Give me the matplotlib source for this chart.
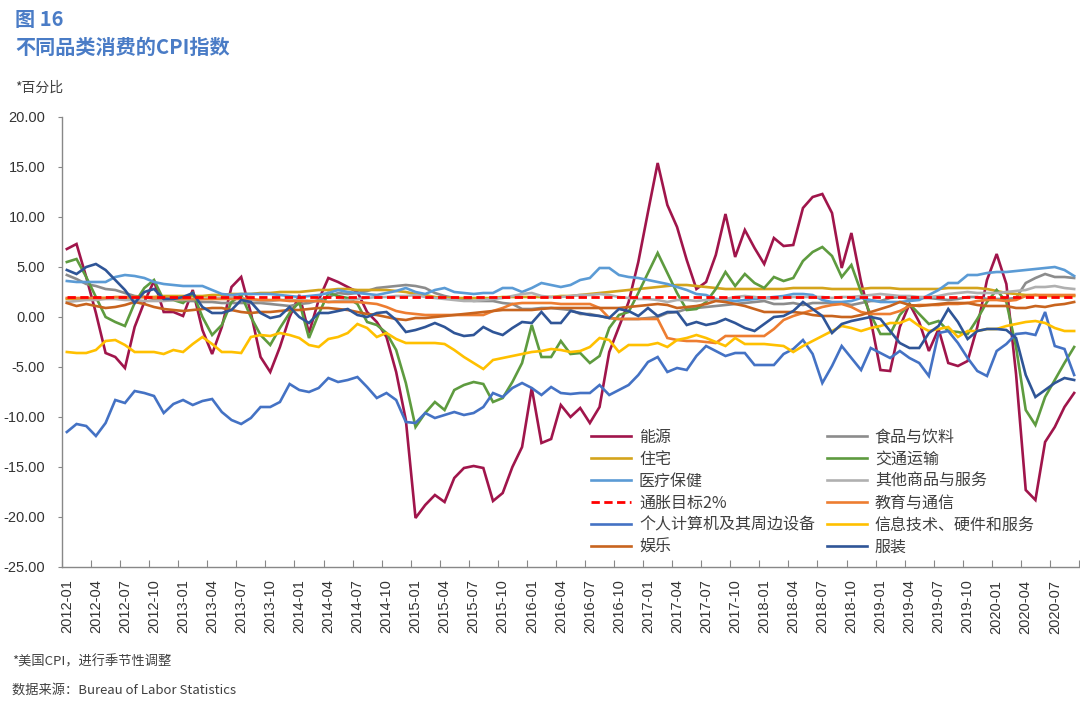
import matplotlib
matplotlib.use("Agg")
import matplotlib.pyplot as plt
import numpy as np

plt.rcParams['font.family'] = ['Noto Sans CJK SC', 'DejaVu Sans']

months = [f"{y}-{m:02d}" for y in range(2012, 2021) for m in range(1, 13)][:105]

energy = [6.8, 7.3, 4.0, 0.4, -3.6, -4.0, -5.1, -1.0, 1.5, 3.6, 0.5, 0.5,
          0.1, 2.7, -1.3, -3.7, -1.0, 3.0, 4.0, 0.4, -4.0, -5.5, -3.0, 0.0,
          2.2, -1.6, 1.7, 3.9, 3.5, 3.0, 2.5, 0.5, -0.5, -2.0, -5.5, -10.3,
          -20.1, -18.8, -17.8, -18.5, -16.1, -15.1, -14.9, -15.1, -18.4, -17.6, -15.0, -13.0,
          -7.1, -12.6, -12.2, -8.8, -10.0, -9.1, -10.6, -9.0, -3.5, -1.0, 1.5, 5.5,
          10.5, 15.4, 11.2, 9.0, 5.7, 2.8, 3.5, 6.2, 10.3, 6.0, 8.7, 6.9,
          5.3, 7.9, 7.1, 7.2, 10.9, 12.0, 12.3, 10.4, 4.9, 8.4, 3.5, -0.3,
          -5.3, -5.4, -1.0, 1.3, -0.5, -3.4, -1.2, -4.6, -4.9, -4.4, -1.0, 3.7,
          6.3, 3.3, -5.7, -17.3, -18.3, -12.5, -11.0, -9.0, -7.6]

food = [4.2, 3.8, 3.3, 3.1, 2.8, 2.7, 2.4, 2.1, 2.0, 1.8, 1.8, 1.8,
        1.6, 1.6, 1.5, 1.5, 1.4, 1.4, 1.4, 1.4, 1.4, 1.3, 1.2, 1.1,
        1.3, 1.4, 1.7, 2.0, 2.4, 2.3, 2.4, 2.6, 2.9, 3.0, 3.1, 3.2,
        3.1, 2.9, 2.4, 2.1, 1.9, 1.8, 1.6, 1.6, 1.6, 1.4, 1.3, 0.8,
        0.8, 0.9, 0.9, 0.8, 0.7, 0.3, 0.3, 0.1, -0.1, -0.2, -0.2, -0.2,
        -0.1, 0.0, 0.4, 0.5, 0.8, 0.9, 1.0, 1.1, 1.2, 1.3, 1.4, 1.5,
        1.6, 1.3, 1.3, 1.4, 1.2, 1.4, 1.4, 1.4, 1.4, 1.2, 1.4, 1.6,
        1.6, 1.9, 2.0, 1.8, 1.9, 1.9, 1.8, 1.7, 1.8, 2.0, 2.0, 1.8,
        1.8, 1.8, 1.9, 3.4, 3.9, 4.3, 4.0, 4.0, 3.9]

housing = [1.8, 1.8, 1.8, 1.9, 1.9, 1.9, 1.9, 2.0, 2.0, 2.0, 2.1, 2.1,
           2.1, 2.1, 2.1, 2.2, 2.2, 2.3, 2.3, 2.3, 2.4, 2.4, 2.5, 2.5,
           2.5, 2.6, 2.7, 2.7, 2.8, 2.8, 2.7, 2.7, 2.7, 2.7, 2.6, 2.5,
           2.3, 2.2, 2.0, 1.9, 1.9, 1.9, 1.9, 1.9, 1.9, 2.0, 2.0, 2.0,
           2.0, 2.0, 2.0, 2.1, 2.1, 2.2, 2.3, 2.4, 2.5, 2.6, 2.7, 2.8,
           2.9, 3.0, 3.1, 3.2, 3.2, 3.1, 3.0, 2.9, 2.8, 2.8, 2.8, 2.8,
           2.8, 2.8, 2.8, 2.9, 2.9, 2.9, 2.9, 2.8, 2.8, 2.8, 2.8, 2.9,
           2.9, 2.9, 2.8, 2.8, 2.8, 2.8, 2.8, 2.9, 2.9, 2.9, 2.9, 2.8,
           2.6, 2.4, 2.3, 2.2, 2.2, 2.1, 2.1, 2.1, 2.1]

transport = [5.5, 5.8, 4.0, 2.0, 0.0, -0.5, -0.9, 1.4, 2.9, 3.7, 1.7, 1.7,
             1.4, 2.4, 0.0, -1.8, -0.8, 1.5, 2.2, 0.0, -1.8, -2.8, -1.1, 0.4,
             1.5, -2.1, 0.3, 2.4, 2.1, 1.9, 1.3, -0.5, -0.8, -1.6, -3.3, -6.6,
             -11.0, -9.6, -8.5, -9.3, -7.3, -6.8, -6.5, -6.7, -8.5, -8.1, -6.5, -4.6,
             -0.8, -4.0, -4.0, -2.4, -3.7, -3.6, -4.6, -3.9, -1.1, 0.2, 0.5, 2.4,
             4.4, 6.4, 4.4, 2.4, 0.7, 0.8, 1.5, 2.8, 4.5, 3.1, 4.3, 3.4,
             2.9, 4.0, 3.6, 3.9, 5.6, 6.5, 7.0, 6.1, 4.0, 5.2, 2.5, 0.2,
             -1.7, -1.7, 0.2, 1.3, 0.3, -0.7, -0.4, -1.4, -1.5, -1.7, -0.2, 1.5,
             2.7, 1.5, -3.0, -9.3, -10.8, -8.0, -6.3, -4.6, -3.0]

medical = [3.6, 3.5, 3.5, 3.5, 3.5, 4.0, 4.2, 4.1, 3.9, 3.5, 3.3, 3.2,
           3.1, 3.1, 3.1, 2.7, 2.3, 2.2, 2.3, 2.3, 2.3, 2.3, 2.2, 2.1,
           2.0, 2.1, 2.2, 2.4, 2.7, 2.5, 2.4, 2.3, 2.2, 2.4, 2.6, 2.9,
           2.5, 2.3, 2.7, 2.9, 2.5, 2.4, 2.3, 2.4, 2.4, 2.9, 2.9, 2.5,
           2.9, 3.4, 3.2, 3.0, 3.2, 3.7, 3.9, 4.9, 4.9, 4.2, 4.0, 3.9,
           3.7, 3.5, 3.3, 3.0, 2.7, 2.3, 2.2, 1.8, 1.7, 1.6, 1.7, 1.8,
           1.9, 2.0, 2.1, 2.3, 2.3, 2.2, 1.7, 1.5, 1.5, 1.6, 1.9, 1.7,
           1.5, 1.5, 1.5, 1.6, 1.7, 2.2, 2.7, 3.4, 3.4, 4.2, 4.2, 4.4,
           4.5, 4.5, 4.6, 4.7, 4.8, 4.9, 5.0, 4.7, 4.1]

other = [1.5, 1.6, 1.7, 1.7, 1.8, 1.8, 1.7, 1.7, 1.6, 1.6, 1.6, 1.7,
         1.7, 1.8, 1.8, 1.9, 1.9, 2.0, 1.9, 1.7, 1.6, 1.6, 1.7, 1.7,
         1.7, 1.6, 1.6, 1.5, 1.6, 1.7, 1.8, 1.9, 2.0, 2.0, 2.1, 2.1,
         2.2, 2.0, 1.9, 1.8, 1.7, 1.6, 1.6, 1.7, 1.8, 1.9, 2.1, 2.3,
         2.4, 2.1, 2.0, 2.0, 2.1, 2.2, 2.2, 2.3, 2.2, 2.0, 1.9, 1.8,
         1.8, 1.7, 1.5, 1.7, 1.7, 1.6, 1.7, 1.7, 1.8, 2.0, 2.1, 2.0,
         1.9, 1.8, 1.9, 2.0, 2.0, 2.0, 2.0, 1.9, 2.0, 2.0, 2.1, 2.2,
         2.3, 2.2, 2.1, 2.1, 2.0, 2.0, 2.1, 2.3, 2.4, 2.5, 2.4, 2.4,
         2.4, 2.5, 2.6, 2.7, 3.0, 3.0, 3.1, 2.9, 2.8]

target = [2.0] * 105

education = [1.9, 1.9, 1.9, 1.9, 1.9, 2.0, 2.0, 2.0, 2.0, 1.9, 1.9, 1.8,
             1.8, 1.8, 1.8, 1.8, 1.8, 1.8, 1.8, 1.8, 1.7, 1.7, 1.7, 1.6,
             1.6, 1.6, 1.6, 1.5, 1.5, 1.5, 1.5, 1.4, 1.3, 1.0, 0.6, 0.4,
             0.3, 0.2, 0.2, 0.2, 0.2, 0.2, 0.2, 0.2, 0.6, 0.9, 1.3, 1.4,
             1.4, 1.4, 1.4, 1.3, 1.3, 1.3, 1.3, 0.9, -0.1, -0.2, -0.2, -0.2,
             -0.2, -0.2, -2.1, -2.3, -2.4, -2.4, -2.5, -2.6, -1.9, -1.9, -1.9, -1.9,
             -1.9, -1.2, -0.3, 0.1, 0.4, 0.7, 1.0, 1.2, 1.3, 1.0, 0.5, 0.3,
             0.3, 0.3, 0.6, 1.1, 1.2, 1.2, 1.2, 1.3, 1.3, 1.4, 1.6, 1.7,
             1.7, 1.6, 1.7, 2.1, 2.2, 2.2, 2.2, 2.2, 2.2]

computers = [-11.5, -10.7, -10.9, -11.9, -10.6, -8.3, -8.6, -7.4, -7.6, -7.9, -9.6, -8.7,
             -8.3, -8.8, -8.4, -8.2, -9.5, -10.3, -10.7, -10.1, -9.0, -9.0, -8.5, -6.7,
             -7.3, -7.5, -7.1, -6.1, -6.5, -6.3, -6.0, -7.0, -8.1, -7.6, -8.3, -10.5,
             -10.6, -9.6, -10.1, -9.8, -9.5, -9.8, -9.6, -9.0, -7.6, -8.0, -7.1, -6.6,
             -7.1, -7.8, -7.0, -7.6, -7.7, -7.6, -7.6, -6.8, -7.8, -7.3, -6.8, -5.8,
             -4.5, -4.0, -5.5, -5.1, -5.3, -3.9, -2.9, -3.4, -3.9, -3.6, -3.6, -4.8,
             -4.8, -4.8, -3.7, -3.2, -2.3, -3.7, -6.6, -4.9, -2.9, -4.1, -5.3, -3.1,
             -3.6, -4.1, -3.4, -4.1, -4.6, -5.9, -1.6, -1.4, -2.6, -4.1, -5.4, -5.9,
             -3.4, -2.7, -1.7, -1.6, -1.8, 0.5, -2.9, -3.2, -5.8]

it_services = [-3.5, -3.6, -3.6, -3.3, -2.4, -2.3, -2.8, -3.5, -3.5, -3.5, -3.7, -3.3,
               -3.5, -2.7, -2.0, -2.7, -3.5, -3.5, -3.6, -2.0, -1.8, -1.9, -1.6, -1.8,
               -2.1, -2.8, -3.0, -2.2, -2.0, -1.6, -0.7, -1.1, -2.0, -1.6, -2.2, -2.6,
               -2.6, -2.6, -2.6, -2.7, -3.3, -4.0, -4.6, -5.2, -4.3, -4.1, -3.9, -3.7,
               -3.5, -3.4, -3.2, -3.3, -3.5, -3.4, -3.0, -2.1, -2.3, -3.5, -2.8, -2.8,
               -2.8, -2.6, -3.0, -2.3, -2.1, -1.8, -2.1, -2.5, -2.9, -2.1, -2.7, -2.7,
               -2.7, -2.8, -2.9, -3.5, -2.9, -2.4, -1.9, -1.4, -0.9, -1.1, -1.4, -1.1,
               -0.9, -0.6, -0.6, -0.2, -0.9, -1.4, -1.2, -1.0, -2.0, -1.4, -1.4, -1.2,
               -1.2, -0.9, -0.7, -0.5, -0.4, -0.6, -1.1, -1.4, -1.4]

recreation = [1.4, 1.1, 1.3, 1.1, 0.9, 1.0, 1.2, 1.5, 1.3, 1.0, 0.8, 0.7,
              0.6, 0.7, 0.8, 0.9, 0.9, 0.7, 0.5, 0.4, 0.5, 0.5, 0.6, 0.7,
              0.7, 0.8, 0.9, 0.9, 0.8, 0.7, 0.5, 0.3, 0.2, 0.0, -0.2, -0.3,
              -0.1, -0.1, 0.0, 0.1, 0.2, 0.3, 0.4, 0.5, 0.6, 0.7, 0.7, 0.7,
              0.7, 0.8, 0.9, 0.9, 0.9, 0.9, 0.9, 0.9, 0.9, 0.9, 1.0, 1.1,
              1.2, 1.3, 1.2, 0.9, 1.0, 1.1, 1.3, 1.6, 1.5, 1.3, 1.1, 0.8,
              0.5, 0.5, 0.5, 0.5, 0.4, 0.2, 0.1, 0.1, 0.0, 0.0, 0.2, 0.5,
              0.8, 1.1, 1.5, 1.2, 1.1, 1.2, 1.3, 1.4, 1.4, 1.4, 1.2, 1.1,
              1.1, 1.1, 0.9, 0.9, 1.1, 1.0, 1.2, 1.3, 1.5]

apparel = [4.7, 4.3, 5.0, 5.3, 4.7, 3.7, 2.7, 1.4, 2.5, 2.8, 1.8, 1.8,
           2.0, 2.4, 1.0, 0.4, 0.4, 0.7, 1.7, 1.5, 0.4, -0.1, 0.1, 1.0,
           0.0, -0.6, 0.4, 0.4, 0.6, 0.8, 0.2, 0.0, 0.4, 0.5, -0.3, -1.5,
           -1.3, -1.0, -0.6, -1.0, -1.6, -1.9, -1.8, -1.0, -1.5, -1.8, -1.1, -0.5,
           -0.6, 0.5, -0.6, -0.6, 0.6, 0.4, 0.2, 0.1, -0.1, 0.8, 0.6, 0.1,
           0.9, 0.1, 0.5, 0.5, -0.8, -0.5, -0.8, -0.6, -0.2, -0.6, -1.1, -1.4,
           -0.7, 0.0, 0.1, 0.6, 1.5, 0.8, 0.1, -1.6, -0.7, -0.4, -0.2, 0.0,
           -0.2, -1.4, -2.6, -3.1, -3.1, -1.6, -0.9, 0.8, -0.5, -2.2, -1.4, -1.2,
           -1.2, -1.3, -2.1, -5.8, -8.0, -7.3, -6.6, -6.1, -6.3]

series = [
    ("能源", energy, "#A0154B", "-"),
    ("食品与饮料", food, "#8C8C8C", "-"),
    ("住宅", housing, "#D4A41C", "-"),
    ("交通运输", transport, "#5E9B3F", "-"),
    ("医疗保健", medical, "#5B9BD5", "-"),
    ("其他商品与服务", other, "#B0B0B0", "-"),
    ("通胀目标2%", target, "#FF0000", "--"),
    ("教育与通信", education, "#ED7D31", "-"),
    ("个人计算机及其周边设备", computers, "#4472C4", "-"),
    ("信息技术、硬件和服务", it_services, "#FFC000", "-"),
    ("娱乐", recreation, "#C8641E", "-"),
    ("服装", apparel, "#2F5597", "-"),
]

fig = plt.figure(figsize=(10.8, 7.05), dpi=100)
ax = fig.add_axes([62 / 1080, 1 - 567 / 705, 1017 / 1080, 450 / 705])

x = np.arange(len(months))
handles = {}
for name, vals, color, ls in series:
    if ls == "--":
        h, = ax.plot(x, vals, color=color, lw=2.0, linestyle=(0, (3, 1.6)), zorder=5)
    else:
        h, = ax.plot(x, vals, color=color, lw=1.9, solid_joinstyle="miter")
    handles[name] = h

ax.set_xlim(-0.5, len(months) - 0.5)
ax.set_ylim(-25, 20)
yt = np.arange(-25, 21, 5)
ax.set_yticks(yt)
ax.set_yticklabels([f"{v:.2f}" for v in yt],
                   fontsize=10.5, color="#333333", family=["Liberation Sans"])

ax.set_xticks(np.arange(-0.5, len(months), 3))
ax.set_xticklabels([])
ax.set_xticks(np.arange(0, len(months), 3), minor=True)
ax.set_xticklabels(months[::3], minor=True, rotation=90, fontsize=10.5,
                   color="#333333", family=["Liberation Sans"])
ax.tick_params(axis="x", which="major", direction="in", length=5, color="#888888")
ax.tick_params(axis="x", which="minor", length=0, pad=9)
ax.tick_params(axis="y", direction="out", length=3, color="#888888", pad=9)

for s in ["top", "right"]:
    ax.spines[s].set_visible(False)
for s in ["left", "bottom"]:
    ax.spines[s].set_color("#888888")
    ax.spines[s].set_linewidth(1.0)

order = ["能源", "住宅", "医疗保健", "通胀目标2%", "个人计算机及其周边设备", "娱乐",
         "食品与饮料", "交通运输", "其他商品与服务", "教育与通信", "信息技术、硬件和服务", "服装"]
leg = fig.legend([handles[k] for k in order], order, loc="upper left",
                 bbox_to_anchor=(591 / 1080, 1 - 429 / 705), ncol=2, frameon=False,
                 fontsize=11.5, handlelength=2.5, handletextpad=0.5, columnspacing=0.75,
                 labelspacing=0.31, borderpad=0, borderaxespad=0)
for t in leg.get_texts():
    t.set_color("#404040")

fig.text(15 / 1080, 1 - 19 / 705, "图 16", fontsize=14.5, fontweight="bold",
         color="#4A7CC6", va="center", ha="left")
fig.text(15 / 1080, 1 - 47 / 705, "不同品类消费的CPI指数", fontsize=14.5, fontweight="bold",
         color="#4A7CC6", va="center", ha="left")
fig.text(15 / 1080, 1 - 88 / 705, "*百分比", fontsize=10, color="#404040",
         va="center", ha="left")
fig.text(12 / 1080, 1 - 662 / 705, "*美国CPI，进行季节性调整", fontsize=9.5,
         color="#404040", va="center", ha="left")
fig.text(12 / 1080, 1 - 690 / 705, "数据来源：Bureau of Labor Statistics", fontsize=9.5,
         color="#404040", va="center", ha="left")

fig.savefig("out.png", dpi=100)
